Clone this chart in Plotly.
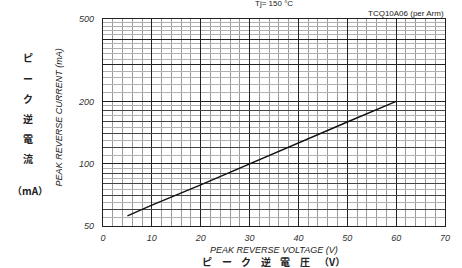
import plotly.graph_objects as go

voltage = [5, 10, 20, 30, 40, 50, 60]
current = [56, 63, 79, 100, 126, 159, 200]

x_ticks = [0, 10, 20, 30, 40, 50, 60, 70]
y_ticks = [50, 100, 200, 300, 400, 500]
y_tick_text = ["50", "100", "200", "", "", "500"]
y_mid_grid = [60, 70, 80, 90, 120, 140, 160, 180]
y_fine_grid = [55, 65, 75, 85, 95, 110, 130, 150, 170, 190,
               220, 240, 260, 280, 320, 340, 360, 380,
               420, 440, 460, 480]
x_fine_grid = [v for v in range(2, 70, 2) if v % 10]

fig = go.Figure()
fig.add_trace(go.Scatter(x=voltage, y=current, mode="lines",
                         line=dict(color="#111", width=1.4), showlegend=False, hoverinfo="skip"))
fig.add_trace(go.Scatter(x=[], y=[], xaxis="x", yaxis="y2", showlegend=False))

tickfont = dict(family="Liberation Sans, Arial", size=9, color="#333", style="italic")
fig.update_layout(
    width=462, height=268,
    margin=dict(l=103, r=14, t=19, b=42),
    paper_bgcolor="white", plot_bgcolor="white",
    xaxis=dict(range=[0, 70], tickvals=x_ticks, tickfont=tickfont,
               showgrid=True, gridcolor="#222", gridwidth=1.4,
               minor=dict(tickvals=x_fine_grid, showgrid=True, gridcolor="#9a9a9a", gridwidth=0.9, ticks=""),
               showline=True, linecolor="#222", linewidth=1.4, mirror=True,
               ticks="", zeroline=False, ticklabelstandoff=3),
    yaxis=dict(type="log", range=[1.69897, 2.69897], tickvals=y_ticks, ticktext=y_tick_text,
               tickfont=tickfont, showgrid=True, gridcolor="#222", gridwidth=1.4,
               minor=dict(tickvals=y_fine_grid, showgrid=True, gridcolor="#b0b0b0", gridwidth=0.8, ticks=""),
               showline=True, linecolor="#222", linewidth=1.4, mirror=True,
               ticks="", zeroline=False, ticklabelstandoff=6),
    yaxis2=dict(type="log", range=[1.69897, 2.69897], overlaying="y", tickvals=y_mid_grid,
                showticklabels=False, showgrid=True, gridcolor="#444", gridwidth=1.1,
                ticks="", zeroline=False, showline=False),
)

PL, PR, PT, PB = 103, 448, 19, 226


def px_ann(text, x, y, size, xanchor="center", style="normal", family="Liberation Sans, Arial",
           angle=0, weight="normal"):
    fig.add_annotation(text=text, xref="paper", yref="paper",
                       x=(x - PL) / (PR - PL), y=(PB - y) / (PB - PT),
                       showarrow=False, xanchor=xanchor, yanchor="middle", textangle=angle,
                       font=dict(size=size, style=style, family=family, color="#222", weight=weight))


px_ann("Tj= 150 °C", 275, 3, 8)
px_ann("TCQ10A06 (per Arm)", 449, 14, 8, xanchor="right")
px_ann("PEAK REVERSE VOLTAGE (V)", 276, 250, 9, style="italic")
px_ann("PEAK REVERSE CURRENT (mA)", 59, 117, 9, style="italic", angle=-90)
jp = "Noto Sans CJK JP"
for ch, xx in zip(["ピ", "ー", "ク", "逆", "電", "圧", "（V）"], [208, 228, 247, 267, 287, 307, 334]):
    px_ann(ch, xx, 261, 10, family=jp, weight="bold")
for ch, yy in zip(["ピ", "ー", "ク", "逆", "電", "流"], [57, 78, 98, 118, 138, 158]):
    px_ann(ch, 27, yy, 10, family=jp, weight="bold")
px_ann("（mA）", 29, 190, 10, family=jp, weight="bold")

fig.write_html("out.html", config={"displayModeBar": False},
               post_script="document.body.style.margin='0';document.body.style.overflow='hidden';")
